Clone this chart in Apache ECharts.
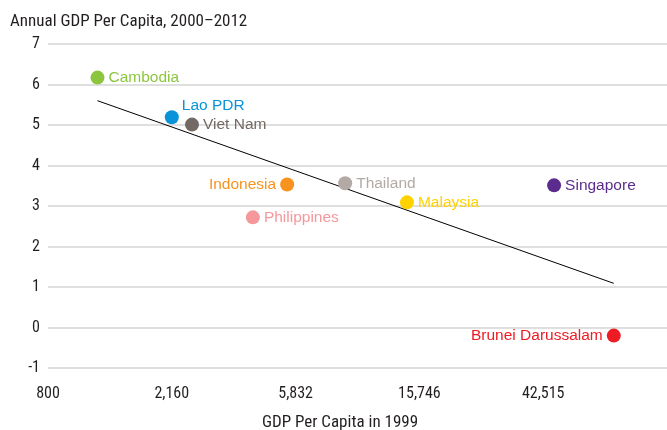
<!DOCTYPE html>
<html>
<head>
<meta charset="utf-8">
<script src="https://cdn.jsdelivr.net/npm/echarts@6/dist/echarts.min.js"></script>
<style>
  html, body { margin: 0; padding: 0; background: #fff; }
  #chart { width: 667px; height: 430px; }
</style>
</head>
<body>
<div id="chart"></div>
<script>
// GDP per capita in 1999 (log scale, base 2.7 from 800) vs annual growth 2000-2012
const countries = ['Cambodia', 'Lao PDR', 'Viet Nam', 'Indonesia', 'Philippines', 'Thailand', 'Malaysia', 'Singapore', 'Brunei Darussalam']
const gdp1999 = [1190, 2160, 2540, 5450, 4140, 8680, 14250, 46400, 74900]
const growth = [6.17, 5.19, 5.01, 3.53, 2.72, 3.56, 3.09, 3.51, -0.2]
const colors = ['#8cc63f', '#0a93d8', '#736a65', '#f7931e', '#f4989c', '#b3aaa6', '#ffd200', '#5b2c8e', '#ed1c24']
const labelPos = ['right', 'right', 'right', 'left', 'right', 'right', 'right', 'right', 'left']
const xTickLabels = ['800', '2,160', '5,832', '15,746', '42,515']
const trendGdp = [1190, 74900]
const trendGrowth = [5.6, 1.09]

const BASE = 800
const STEP = 2.7
const toAxis = (v) => Math.log(v / BASE) / Math.log(STEP)

const narrow = "'Liberation Sans Narrow', 'Roboto Condensed', 'Arial Narrow', sans-serif"
const regular = "'Liberation Sans', Arial, sans-serif"

const chart = echarts.init(document.getElementById('chart'))

const points = countries.map((name, i) => ({
  name,
  value: [toAxis(gdp1999[i]), growth[i]],
  itemStyle: { color: colors[i], opacity: 1 },
  label: {
    position: labelPos[i],
    color: colors[i],
  },
}))
// Lao PDR label sits above to the right
points[1].label.position = [17, -13]

chart.setOption({
  animation: false,
  title: [
    {
      text: 'Annual GDP Per Capita, 2000–2012',
      left: 5,
      top: 8,
      textStyle: { fontFamily: narrow, fontSize: 17, fontWeight: 'normal', color: '#231f20' },
    },
    {
      text: 'GDP Per Capita in 1999',
      left: 335,
      top: 409,
      textAlign: 'center',
      textStyle: { fontFamily: narrow, fontSize: 17, fontWeight: 'normal', color: '#231f20' },
    },
  ],
  grid: {
    left: 48,
    right: -2,
    top: 44,
    bottom: 62,
    containLabel: false,
  },
  xAxis: {
    type: 'value',
    min: 0,
    max: 5,
    interval: 1,
    axisLine: { show: false },
    axisTick: { show: false },
    splitLine: { show: false },
    axisLabel: {
      margin: 18,
      showMaxLabel: false,
      fontFamily: narrow,
      fontSize: 16,
      color: '#231f20',
      formatter: (v) => xTickLabels[Math.round(v)] || '',
    },
  },
  yAxis: {
    type: 'value',
    min: -1,
    max: 7,
    interval: 1,
    axisLine: { show: false },
    axisTick: { show: false },
    splitLine: { lineStyle: { color: '#d4d4d4', width: 1.5 } },
    axisLabel: {
      margin: 8,
      fontFamily: narrow,
      fontSize: 16,
      color: '#231f20',
    },
  },
  series: [
    {
      type: 'line',
      data: trendGdp.map((v, i) => [toAxis(v), trendGrowth[i]]),
      symbol: 'none',
      lineStyle: { color: '#000', width: 1 },
      z: 1,
    },
    {
      type: 'scatter',
      symbolSize: 14,
      data: points,
      label: {
        show: true,
        formatter: '{b}',
        distance: 4,
        fontFamily: regular,
        fontSize: 15.5,
      },
      z: 2,
    },
  ],
})
</script>
</body>
</html>
